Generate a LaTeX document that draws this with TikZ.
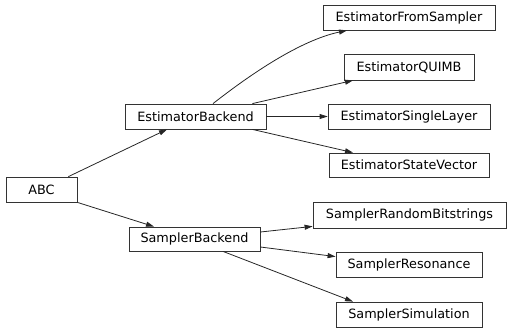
\documentclass[tikz,border=0pt]{standalone}
\usepackage{fontspec}
\setmainfont{DejaVu Sans}
\usetikzlibrary{arrows.meta}
\begin{document}
\begin{tikzpicture}[x=1pt,y=-1pt,>={Triangle[length=8pt,width=5pt]},
    cls/.style={draw=black!80, rectangle, line width=0.8pt, minimum height=25pt, inner ysep=0pt, inner xsep=11pt, font=\fontsize{12.8}{14}\selectfont},
    edge/.style={->, draw=black!85, line width=0.8pt}]
        \useasboundingbox (0,0) rectangle (511,332);
        \node (abc) [cls, minimum width=71pt] at (41.5,189.5) {ABC};
        \node (eback) [cls, minimum width=141pt] at (195.5,116.5) {EstimatorBackend};
        \node (sback) [cls, minimum width=131pt, minimum height=24pt] at (194.5,239) {SamplerBackend};
        \node (efs) [cls, minimum width=172pt] at (409,17.5) {EstimatorFromSampler};
        \node (equimb) [cls, minimum width=130pt, minimum height=26pt] at (409,67) {EstimatorQUIMB};
        \node (esingle) [cls, minimum width=162pt] at (409,116.5) {EstimatorSingleLayer};
        \node (esv) [cls, minimum width=160pt, minimum height=24pt] at (409,165) {EstimatorStateVector};
        \node (srb) [cls, minimum width=193pt, minimum height=26pt] at (409.5,215) {SamplerRandomBitstrings};
        \node (sres) [cls, minimum width=146pt] at (409,264.5) {SamplerResonance};
        \node (ssim) [cls, minimum width=146pt] at (409,314.5) {SamplerSimulation};

        \draw[edge] ([xshift=-9pt]abc.north east) -- ([xshift=-28.5pt]eback.south);
        \draw[edge] (abc.south east) -- ([xshift=-40.5pt]sback.north);
        \draw[edge] ([xshift=17.5pt]eback.north) .. controls +(37,-29) and +(-47,10) .. ([xshift=-62pt]efs.south);
        \draw[edge] ([xshift=-14pt]eback.north east) -- ([xshift=-56pt]equimb.south);
        \draw[edge] (eback.east) -- (esingle.west);
        \draw[edge] ([xshift=-14pt]eback.south east) -- ([xshift=-56pt]esv.north);
        \draw[edge] ([yshift=7pt]sback.east) -- ([yshift=2pt]srb.south west);
        \draw[edge] ([yshift=-8pt]sback.east) -- ([yshift=-5pt]sres.north west);
        \draw[edge] ([xshift=28.5pt]sback.south) -- ([xshift=-56pt]ssim.north);
    \end{tikzpicture}
\end{document}
